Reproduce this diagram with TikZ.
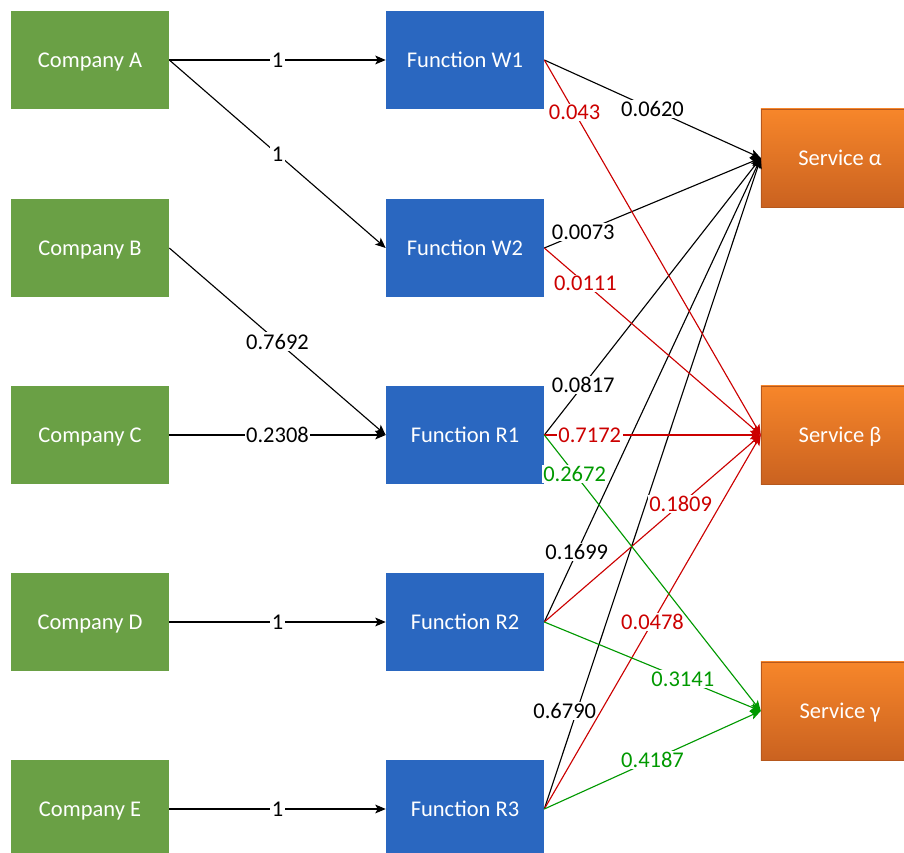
\documentclass[tikz,border=0pt]{standalone}
\usepackage{fontspec}
\setmainfont{Carlito}
\usetikzlibrary{arrows.meta}

\definecolor{compgreen}{RGB}{106,160,69}
\definecolor{funcblue}{RGB}{42,103,192}
\definecolor{servtop}{RGB}{247,134,42}
\definecolor{servbot}{RGB}{202,98,32}
\definecolor{wred}{RGB}{204,0,0}
\definecolor{wgreen}{RGB}{0,153,0}

\tikzset{
  unitbox/.style={rectangle, minimum width=3.95cm, minimum height=2.45cm,
    text height=10.6pt, text depth=0pt,
    text=white, font=\fontsize{16}{19}\selectfont},
  compbox/.style={unitbox, fill=compgreen},
  funcbox/.style={unitbox, fill=funcblue},
  servbox/.style={unitbox, top color=servtop, bottom color=servbot,
    draw=servbot!90!black, line width=0.3pt},
  link/.style={-{Stealth[length=2.6mm,width=2.2mm,inset=0.6mm]}, line width=0.8pt},
  weight/.style={fill=white, inner sep=1pt, font=\fontsize{16}{19}\selectfont},
}

\begin{document}
\begin{tikzpicture}[x=0.025cm, y=-0.025cm]
  \clip (0,0) rectangle (904,853);
  \fill[white] (0,0) rectangle (904,853);

  % companies
  \node [compbox](cA) at (90,60) {Company A};
  \node [compbox](cB) at (90,248) {Company B};
  \node [compbox](cC) at (90,435) {Company C};
  \node [compbox](cD) at (90,622) {Company D};
  \node [compbox](cE) at (90,809) {Company E};

  % functions
  \node [funcbox](fW1) at (465,60) {Function W1};
  \node [funcbox](fW2) at (465,248) {Function W2};
  \node [funcbox](fR1) at (465,435) {Function R1};
  \node [funcbox](fR2) at (465,622) {Function R2};
  \node [funcbox](fR3) at (465,809) {Function R3};

  % services (right part runs off the page)
  \node [servbox](sAl) at (840,158) {Service α};
  \node [servbox](sBe) at (840,435) {Service β};
  \node [servbox](sGa) at (840,711) {Service γ};

  % companies -> functions
  \draw[link] (cA.east) -- node[weight] {1} (fW1.west);
  \draw[link] (cA.east) -- node[weight] {1} (fW2.west);
  \draw[link] (cB.east) -- node[weight] {0.7692} (fR1.west);
  \draw[link] (cC.east) -- node[weight] {0.2308} (fR1.west);
  \draw[link] (cD.east) -- node[weight] {1} (fR2.west);
  \draw[link] (cE.east) -- node[weight] {1} (fR3.west);

  % functions -> service alpha
  \draw[link] (fW1.east) -- node[weight, pos=0.5] {0.0620} (sAl.west);
  \draw[link] (fW2.east) -- node[weight, pos=0.18] {0.0073} (sAl.west);
  \draw[link] (fR1.east) -- node[weight, pos=0.18] {0.0817} (sAl.west);
  \draw[link] (fR2.east) -- node[weight, pos=0.15] {0.1699} (sAl.west);
  \draw[link] (fR3.east) -- node[weight, pos=0.15, xshift=-0.3cm] {0.6790} (sAl.west);

  % functions -> service beta
  \draw[link, wred] (fW1.east) -- node[weight, pos=0.14] {0.043} (sBe.west);
  \draw[link, wred] (fW2.east) -- node[weight, pos=0.19] {0.0111} (sBe.west);
  \draw[link, wred] (fR1.east) -- node[weight, pos=0.21] {0.7172} (sBe.west);
  \draw[link, wred] (fR2.east) -- node[weight, pos=0.63] {0.1809} (sBe.west);
  \draw[link, wred] (fR3.east) -- node[weight, pos=0.5] {0.0478} (sBe.west);

  % functions -> service gamma
  \draw[link, wgreen] (fR1.east) -- node[weight, pos=0.14] {0.2672} (sGa.west);
  \draw[link, wgreen] (fR2.east) -- node[weight, pos=0.64] {0.3141} (sGa.west);
  \draw[link, wgreen] (fR3.east) -- node[weight, pos=0.5] {0.4187} (sGa.west);
\end{tikzpicture}
\end{document}
